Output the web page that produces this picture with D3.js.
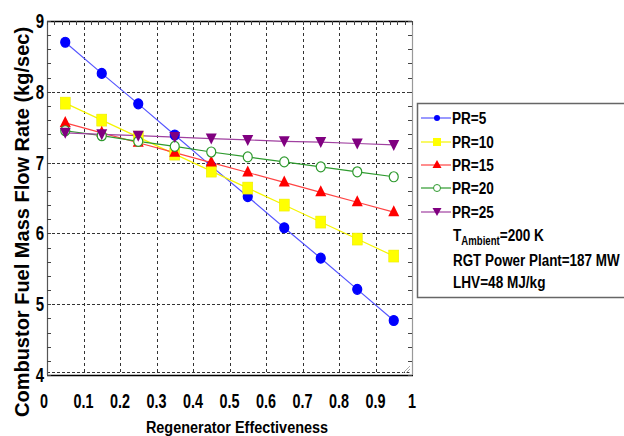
<!DOCTYPE html>
<html><head><meta charset="utf-8">
<script src="https://cdn.jsdelivr.net/npm/d3@7"></script>
<style>
body{margin:0;background:#fff;}
text{font-family:"Liberation Sans",Arial,sans-serif;font-weight:bold;}
</style></head>
<body><svg id="c" width="624" height="436"></svg>
<script>
const effectiveness = [0.05,0.15,0.25,0.35,0.45,0.55,0.65,0.75,0.85,0.95];
const pr5  = [8.70,8.26,7.83,7.39,6.95,6.52,6.08,5.65,5.21,4.77];
const pr10 = [7.84,7.60,7.36,7.12,6.88,6.64,6.40,6.16,5.92,5.68];
const pr15 = [7.56,7.42,7.28,7.14,7.00,6.86,6.72,6.58,6.44,6.30];
const pr20 = [7.45,7.38,7.30,7.23,7.15,7.08,7.01,6.94,6.87,6.80];
const pr25 = [7.42,7.40,7.38,7.36,7.34,7.32,7.30,7.29,7.27,7.25];
const seriesNames = ["PR=5","PR=10","PR=15","PR=20","PR=25"];
const xTicks = [0,0.1,0.2,0.3,0.4,0.5,0.6,0.7,0.8,0.9,1];
const yTicks = [4,5,6,7,8,9];
const xLabel = "Regenerator Effectiveness";
const yLabel = "Combustor Fuel Mass Flow Rate (kg/sec)";

const series = [
  {name:seriesNames[0], vals:pr5,  line:"#5555ff", fill:"#0000ff", stroke:"#0000ff", shape:"circle"},
  {name:seriesNames[1], vals:pr10, line:"#f5f500", fill:"#ffff00", stroke:"#e8e800", shape:"square"},
  {name:seriesNames[2], vals:pr15, line:"#ff4444", fill:"#ff0000", stroke:"#ff0000", shape:"up"},
  {name:seriesNames[3], vals:pr20, line:"#2e9a2e", fill:"#ffffff", stroke:"#2e9a2e", shape:"open"},
  {name:seriesNames[4], vals:pr25, line:"#a040a0", fill:"#800080", stroke:"#800080", shape:"down"}
];

const svg = d3.select("#c");
const L=47, R=412, T=21, B=375;
const x = d3.scaleLinear().domain([0,1]).range([L,R]);
const y = d3.scaleLinear().domain([4,9]).range([B,T]);

function ntext(parent, px, py, str, size, anchor, sx){
  const gg = parent.append("g").attr("transform",`translate(${px},${py}) scale(${sx},1)`);
  const t = gg.append("text").attr("x",0).attr("y",0).attr("font-size",size).attr("text-anchor",anchor||"start").attr("fill","#000");
  if(str!==null) t.text(str);
  return t;
}

// grid
const g = svg.append("g");
g.selectAll(".gx").data(xTicks.slice(1,-1)).enter().append("line")
  .attr("x1",d=>Math.round(x(d))+0.5).attr("x2",d=>Math.round(x(d))+0.5).attr("y1",T).attr("y2",B)
  .attr("stroke","#333").attr("stroke-width",1).attr("stroke-dasharray","3,3");
g.selectAll(".gy").data(yTicks.slice(0,-1)).enter().append("line")
  .attr("x1",L).attr("x2",R).attr("y1",d=>Math.round(y(d))+(d===4?-2.5:0.5)).attr("y2",d=>Math.round(y(d))+(d===4?-2.5:0.5))
  .attr("stroke","#333").attr("stroke-width",1).attr("stroke-dasharray","3,2");

// frame
svg.append("line").attr("x1",L).attr("x2",R).attr("y1",T+0.5).attr("y2",T+0.5).attr("stroke","#000").attr("stroke-width",1.5);
svg.append("line").attr("x1",L).attr("x2",R+1).attr("y1",B+0.5).attr("y2",B+0.5).attr("stroke","#000").attr("stroke-width",1.5);
svg.append("line").attr("x1",L+0.5).attr("x2",L+0.5).attr("y1",T).attr("y2",B).attr("stroke","#555").attr("stroke-width",1.2);
svg.append("line").attr("x1",R+0.5).attr("x2",R+0.5).attr("y1",T).attr("y2",B).attr("stroke","#999").attr("stroke-width",1.2);

// minor ticks
const yMinor = d3.range(4,9.001,0.2);
svg.selectAll(".yml").data(yMinor).enter().append("line")
  .attr("x1",L).attr("x2",L+4).attr("y1",d=>Math.round(y(d))+0.5).attr("y2",d=>Math.round(y(d))+0.5).attr("stroke","#444");
svg.selectAll(".ymr").data(yMinor).enter().append("line")
  .attr("x1",R-4).attr("x2",R).attr("y1",d=>Math.round(y(d))+0.5).attr("y2",d=>Math.round(y(d))+0.5).attr("stroke","#444");
const xMinor = d3.range(0,1.0001,0.02);
svg.selectAll(".xmt").data(xMinor).enter().append("line")
  .attr("x1",d=>Math.round(x(d))+0.5).attr("x2",d=>Math.round(x(d))+0.5).attr("y1",T).attr("y2",T+4).attr("stroke","#444");

// resize grip
const grip = svg.append("g").attr("stroke","#aaa").attr("stroke-width",1);
[0,3,6].forEach(o=>grip.append("line").attr("x1",R-3-o).attr("y1",B-2).attr("x2",R-2).attr("y2",B-3-o));

// lines and markers
const line = d3.line().x((d,i)=>x(effectiveness[i])).y(d=>y(d));
function marker(sel, s, cx, cy){
  if(s.shape==="circle"||s.shape==="open"){
    sel.append("ellipse").attr("cx",cx).attr("cy",cy).attr("rx",4.5).attr("ry",5)
      .attr("fill",s.fill).attr("stroke",s.stroke).attr("stroke-width",1.2);
  } else if(s.shape==="square"){
    sel.append("rect").attr("x",cx-5).attr("y",cy-6).attr("width",10).attr("height",12).attr("fill",s.fill).attr("stroke",s.stroke).attr("stroke-width",0.5);
  } else if(s.shape==="up"){
    sel.append("path").attr("d",`M${cx},${cy-7}L${cx+5.5},${cy+4}L${cx-5.5},${cy+4}Z`).attr("fill",s.fill);
  } else {
    sel.append("path").attr("d",`M${cx-5.5},${cy-5}L${cx+5.5},${cy-5}L${cx},${cy+6}Z`).attr("fill",s.fill);
  }
}
series.forEach(s=>{
  svg.append("path").attr("d",line(s.vals)).attr("fill","none").attr("stroke",s.line).attr("stroke-width",1.2);
});
series.forEach(s=>{
  const mg = svg.append("g");
  s.vals.forEach((v,i)=>marker(mg,s,x(effectiveness[i]),y(v)));
});

// tick labels
xTicks.forEach(d=>ntext(svg, x(d)-(d===0?3:0), 408, d3.format("~g")(d), 20, "middle", 0.72));
yTicks.forEach(d=>ntext(svg, 44, y(d)+7, String(d), 20, "end", 0.75));

// axis titles
ntext(svg, 237, 433, xLabel, 17, "middle", 0.85);
svg.append("text").attr("transform","translate(29,222) rotate(-90)").attr("text-anchor","middle")
  .attr("font-size",20).text(yLabel);

// legend
const lg = svg.append("g");
lg.append("rect").attr("x",417.5).attr("y",103.5).attr("width",220).attr("height",194).attr("fill","#fff")
  .attr("stroke","#666").attr("stroke-width",1.5);
const rowY = [118,142,165,188,212];
series.forEach((s,i)=>{
  lg.append("line").attr("x1",421).attr("x2",451).attr("y1",rowY[i]).attr("y2",rowY[i]).attr("stroke",s.line).attr("stroke-width",1.2);
  if(s.shape==="circle"){ lg.append("circle").attr("cx",437).attr("cy",rowY[i]).attr("r",3).attr("fill",s.fill); }
  else if(s.shape==="open"){ lg.append("circle").attr("cx",437).attr("cy",rowY[i]).attr("r",3.5).attr("fill","#fff").attr("stroke",s.stroke); }
  else if(s.shape==="square"){ lg.append("rect").attr("x",433).attr("y",rowY[i]-4).attr("width",8).attr("height",8).attr("fill",s.fill); }
  else if(s.shape==="up"){ lg.append("path").attr("d",`M437,${rowY[i]-5}L441.5,${rowY[i]+3}L432.5,${rowY[i]+3}Z`).attr("fill",s.fill); }
  else { lg.append("path").attr("d",`M432.5,${rowY[i]-4}L441.5,${rowY[i]-4}L437,${rowY[i]+4}Z`).attr("fill",s.fill); }
  ntext(lg, 452, rowY[i]+6, s.name, 17, "start", 0.8);
});
const t1 = ntext(lg, 453, 241, null, 17, "start", 0.8);
t1.append("tspan").text("T");
t1.append("tspan").attr("font-size",12).attr("dy",4).text("Ambient");
t1.append("tspan").attr("dy",-4).text("=200 K");
ntext(lg, 453, 266, "RGT Power Plant=187 MW", 17, "start", 0.79);
ntext(lg, 453, 288, "LHV=48 MJ/kg", 17, "start", 0.8);
</script></body></html>
